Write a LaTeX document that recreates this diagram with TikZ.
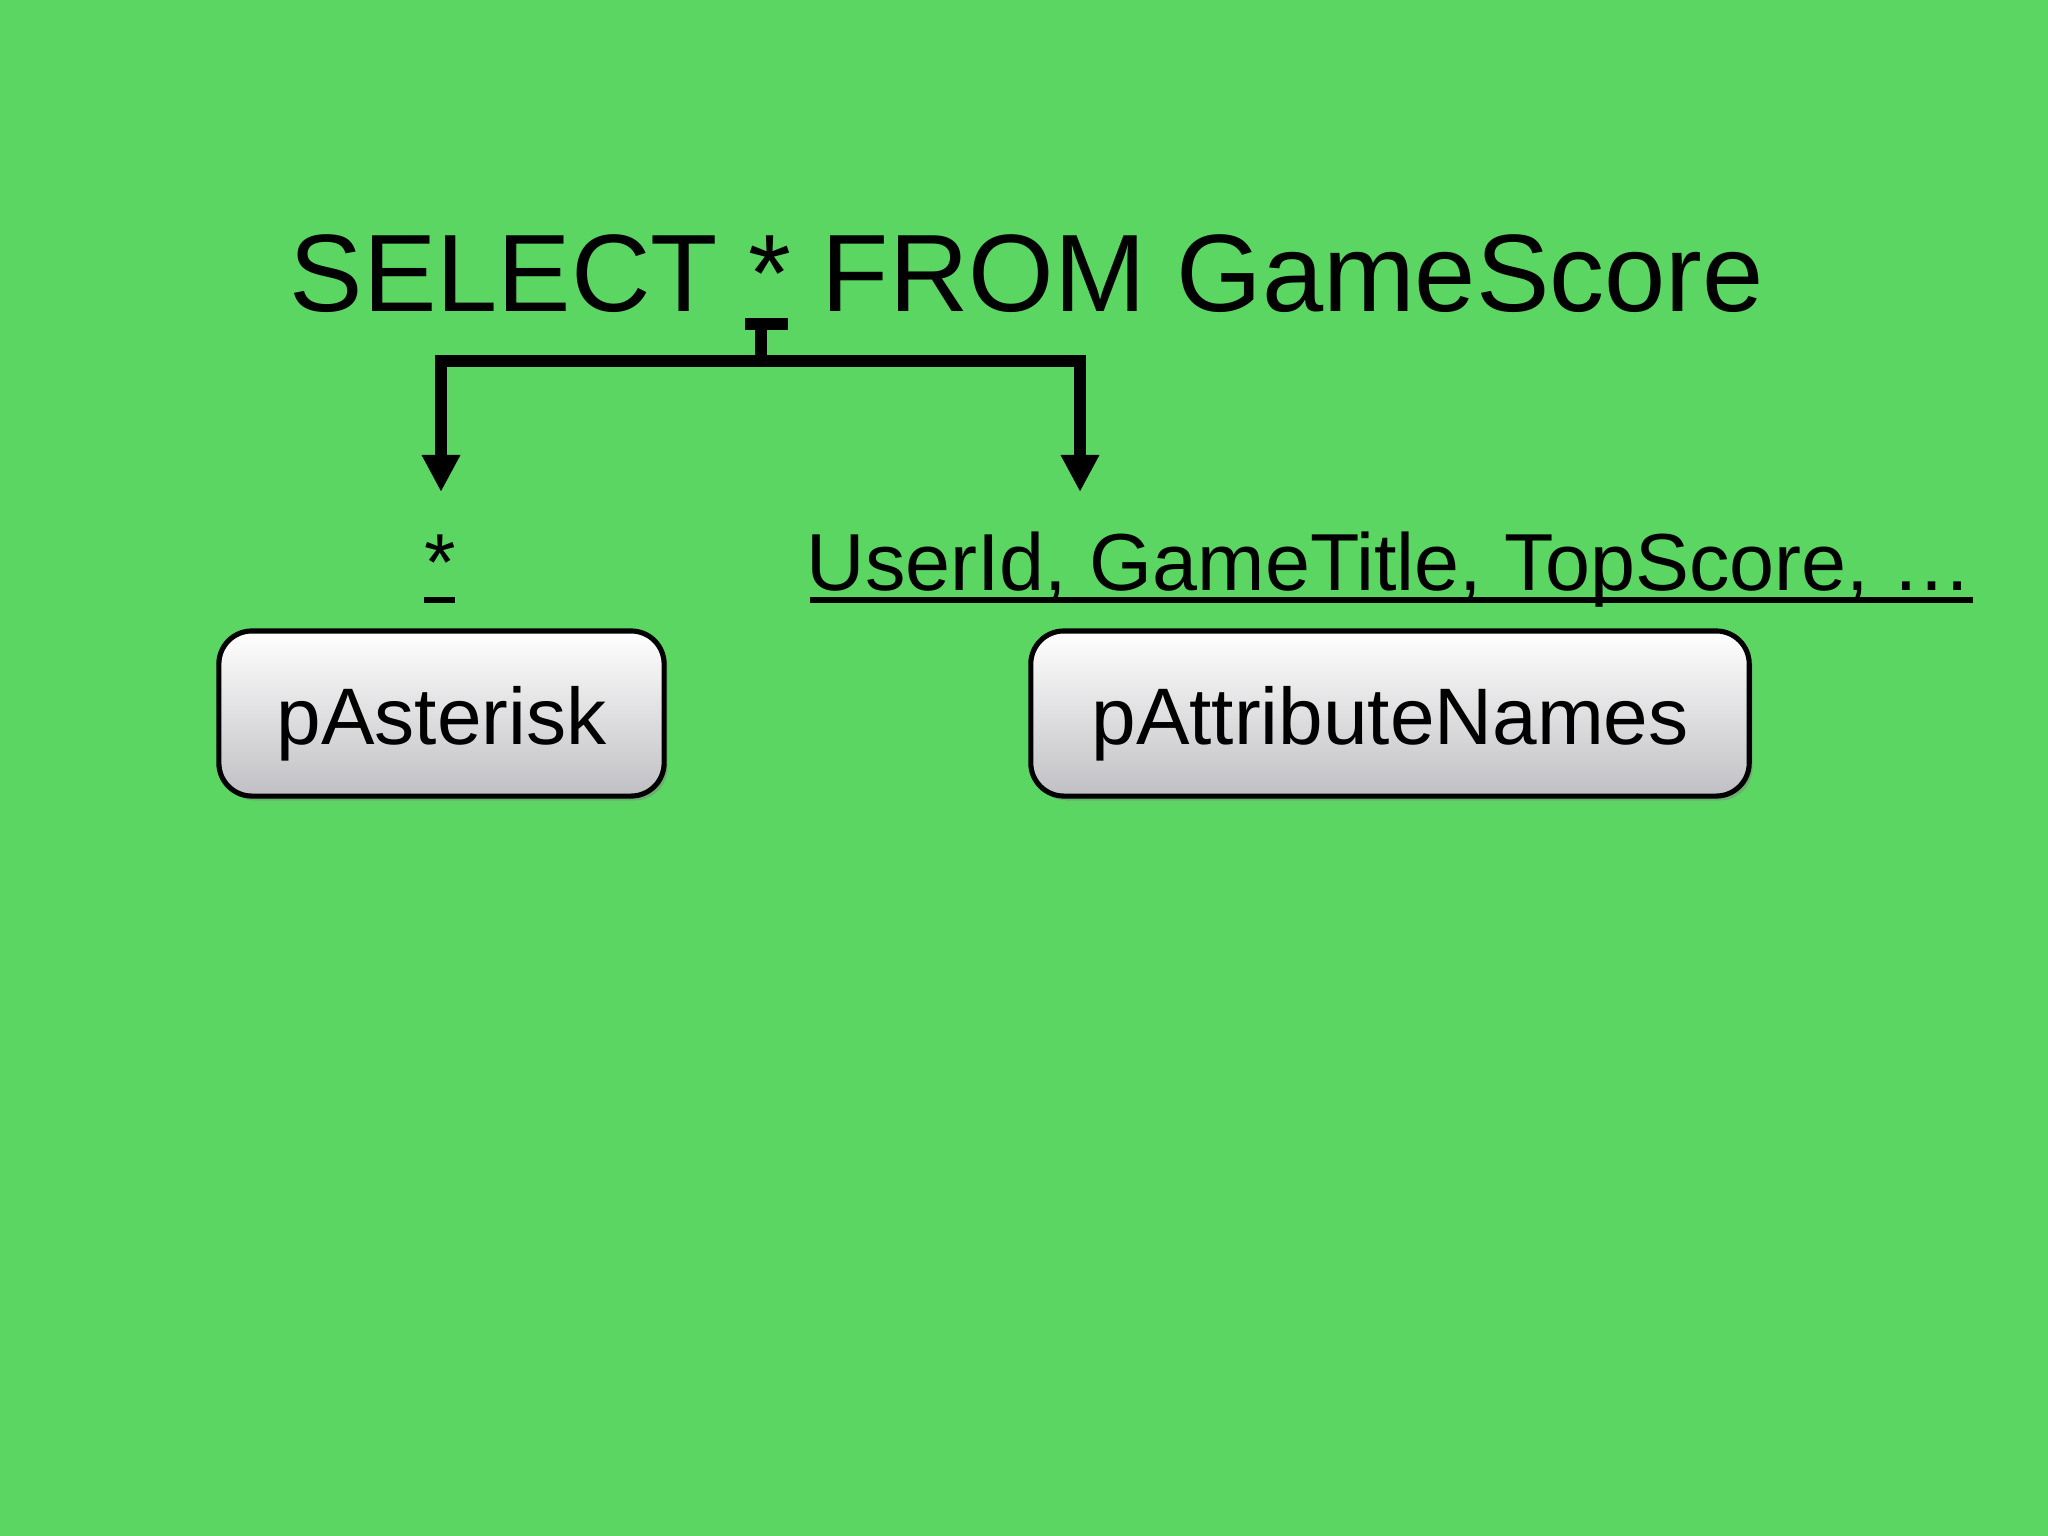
\documentclass[tikz,border=0pt]{standalone}
\usepackage{fontspec}
\setmainfont{Liberation Sans}
\usetikzlibrary{arrows.meta,shadows}
\definecolor{bg}{RGB}{92,214,98}
\definecolor{boxbot}{RGB}{192,192,196}
\begin{document}
\begin{tikzpicture}[x=0.01cm,y=-0.01cm,
  conn/.style={line width=3.4pt, draw=black},
  arr/.style={conn,-{Triangle[width=0.36cm,length=0.37cm]}},
  ul/.style={line width=1.7pt},
  txt/.style={inner sep=0pt, font=\fontsize{23}{26}\selectfont},
  boxnode/.style={draw=black, line width=1.45pt, rounded corners=0.33cm,
    top color=white, bottom color=boxbot, minimum height=1.65cm,
    text height=0.78cm, text depth=0.17cm, inner sep=0pt,
    font=\fontsize{22.8}{26}\selectfont,
    drop shadow={shadow xshift=0.035cm, shadow yshift=-0.045cm, opacity=0.45}}
]
\fill[bg] (0,0) rectangle (2048,1536);
\useasboundingbox (0,0) rectangle (2048,1536);

\node[anchor=base west, inner sep=0pt, font=\fontsize{31.3}{36}\selectfont] (title) at (289,311) {SELECT * FROM GameScore};

\coordinate (stemtop) at (761,324);
\coordinate (hub) at (761,361);
\coordinate (la) at (441,492);
\coordinate (ra) at (1080,492);
\draw[conn] (745,324) -- (788,324);
\draw[conn] (stemtop) -- (hub);
\draw[arr] (hub) -| (la);
\draw[arr] (hub) -| (ra);

\node[txt, anchor=base] (star) at (440,590) {*};
\draw[ul] (424,600) -- (455,600);

\node[txt, anchor=base west] (attrs) at (806,590) {UserId, GameTitle, TopScore, …};
\draw[ul] (810,600) -- (1973,600);

\node[boxnode, minimum width=4.45cm] (pAst) at (441.5,713.5) {pAsterisk};
\node[boxnode, minimum width=7.18cm] (pAttr) at (1390,713.5) {pAttributeNames};
\end{tikzpicture}
\end{document}
